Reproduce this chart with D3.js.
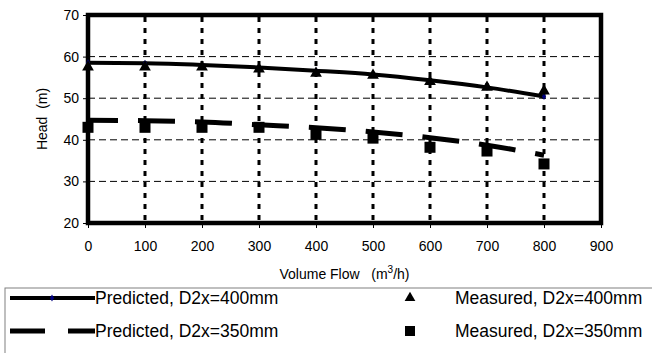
<!DOCTYPE html>
<html lang="en">
<head>
    <meta charset="UTF-8">
    <script src="https://d3js.org/d3.v7.min.js"></script>
    <title>Head vs volume flow</title>
    <style>
        body { margin: 0; background: #fff; }
        text { font-family: "Liberation Sans", Arial, sans-serif; fill: #000; white-space: pre; }
    </style>
</head>
<body>
<div id="Area"></div>
<script>
    // data
    const flow = [0, 100, 200, 300, 400, 500, 600, 700, 800];
    const predicted400 = [58.5, 58.4, 58.0, 57.4, 56.6, 55.7, 54.3, 52.6, 50.4];
    const measured400 = [57.5, 57.5, 57.5, 57.0, 56.0, 55.5, 54.0, 52.6, 51.7];
    const predicted350 = [44.7, 44.6, 44.3, 43.6, 42.9, 41.9, 40.5, 38.7, 36.3];
    const measured350 = [43.0, 43.0, 43.0, 43.0, 41.3, 40.4, 38.2, 37.3, 34.2];
    const xTicks = [0, 100, 200, 300, 400, 500, 600, 700, 800, 900];
    const yTicks = [20, 30, 40, 50, 60, 70];
    const legendLabels = ["Predicted, D2x=400mm", "Predicted, D2x=350mm",
                          "Measured, D2x=400mm", "Measured, D2x=350mm"];

    const W = 652, H = 353;
    const margin = {top: 15, right: 51, bottom: 130, left: 88};
    const width = W - margin.left - margin.right;
    const height = H - margin.top - margin.bottom;

    const svg = d3.select("#Area").append("svg")
        .attr("width", W).attr("height", H);
    const g = svg.append("g")
        .attr("transform", "translate(" + margin.left + "," + margin.top + ")");

    const x = d3.scaleLinear().domain([0, 900]).range([0, width]);
    const y = d3.scaleLinear().domain([20, 70]).range([height, 0]);

    // horizontal grid (thin dashed)
    g.selectAll(".hgrid").data(yTicks.filter(d => d > 20 && d < 70)).enter()
      .append("line")
        .attr("x1", 0).attr("x2", width)
        .attr("y1", d => y(d)).attr("y2", d => y(d))
        .attr("stroke", "#000").attr("stroke-width", 1)
        .attr("stroke-dasharray", "7,4");

    // vertical grid (thick dotted)
    g.selectAll(".vgrid").data(xTicks.filter(d => d > 0 && d < 900)).enter()
      .append("line")
        .attr("x1", d => x(d)).attr("x2", d => x(d))
        .attr("y1", 2).attr("y2", height)
        .attr("stroke", "#000").attr("stroke-width", 3)
        .attr("stroke-dasharray", "5,6");

    // axes
    const xAxis = g.append("g")
        .attr("transform", "translate(0," + height + ")")
        .call(d3.axisBottom(x).tickValues(xTicks).tickSize(5).tickPadding(13));
    const yAxis = g.append("g")
        .call(d3.axisLeft(y).tickValues(yTicks).tickSize(5).tickPadding(4));
    [xAxis, yAxis].forEach(a => {
        a.select(".domain").remove();
        a.selectAll("text").style("font-size", "14px")
          .style("font-family", "'Liberation Sans', Arial, sans-serif");
        a.selectAll("line").attr("stroke", "#000");
    });

    // frame
    g.append("rect")
        .attr("x", 0).attr("y", 0).attr("width", width).attr("height", height)
        .attr("fill", "none").attr("stroke", "#000").attr("stroke-width", 4.5);

    // axis titles
    g.append("text")
        .attr("transform", "translate(-46," + (height / 2) + ") rotate(-90)")
        .attr("text-anchor", "middle").attr("dy", "0.35em")
        .style("font-size", "14px")
        .text("Head  (m)");

    const xt = g.append("text")
        .attr("x", width / 2).attr("y", height + 56)
        .attr("text-anchor", "middle")
        .style("font-size", "14px");
    xt.append("tspan").text("Volume Flow   (m");
    xt.append("tspan").attr("dy", -6).style("font-size", "10px").text("3");
    xt.append("tspan").attr("dy", 6).text("/h)");

    // lines
    const line = d3.line()
        .x((d, i) => x(flow[i]))
        .y(d => y(d))
        .curve(d3.curveMonotoneX);

    g.append("path").datum(predicted350)
        .attr("d", line).attr("fill", "none")
        .attr("stroke", "#000").attr("stroke-width", 5)
        .attr("stroke-dasharray", "37,20").attr("stroke-dashoffset", 7);

    g.append("path").datum(predicted400)
        .attr("d", line).attr("fill", "none")
        .attr("stroke", "#000").attr("stroke-width", 4);

    g.selectAll(".pdot").data(predicted400).enter()
      .append("path")
        .attr("d", d3.symbol(d3.symbolDiamond, 14))
        .attr("transform", (d, i) => "translate(" + x(flow[i]) + "," + y(d) + ")")
        .attr("fill", "#000080");

    // measured markers
    g.selectAll(".tri").data(measured400).enter()
      .append("path")
        .attr("d", d3.symbol(d3.symbolTriangle, 60))
        .attr("transform", (d, i) => "translate(" + x(flow[i]) + "," + y(d) + ")")
        .attr("fill", "#000");

    g.selectAll(".sq").data(measured350).enter()
      .append("rect")
        .attr("x", (d, i) => x(flow[i]) - 5.5)
        .attr("y", d => y(d) - 5.5)
        .attr("width", 11).attr("height", 11)
        .attr("fill", "#000");

    // legend
    const lg = svg.append("g");
    lg.append("rect")
        .attr("x", 5).attr("y", 288).attr("width", 700).attr("height", 100)
        .attr("fill", "none").attr("stroke", "#808080").attr("stroke-width", 1);

    const rows = [298, 331];
    lg.append("line").attr("x1", 10).attr("x2", 95)
        .attr("y1", rows[0]).attr("y2", rows[0])
        .attr("stroke", "#000").attr("stroke-width", 4);
    lg.append("path")
        .attr("d", d3.symbol(d3.symbolDiamond, 14))
        .attr("transform", "translate(52," + rows[0] + ")")
        .attr("fill", "#000080");
    lg.append("line").attr("x1", 10).attr("x2", 95)
        .attr("y1", rows[1]).attr("y2", rows[1])
        .attr("stroke", "#000").attr("stroke-width", 5)
        .attr("stroke-dasharray", "35,23");
    lg.append("path")
        .attr("d", d3.symbol(d3.symbolTriangle, 50))
        .attr("transform", "translate(410," + rows[0] + ")")
        .attr("fill", "#000");
    lg.append("rect")
        .attr("x", 405).attr("y", rows[1] - 5).attr("width", 10).attr("height", 10)
        .attr("fill", "#000");

    lg.selectAll(".ltxt").data(legendLabels).enter()
      .append("text")
        .attr("x", (d, i) => i < 2 ? 95 : 455)
        .attr("y", (d, i) => rows[i % 2])
        .attr("dy", "0.35em")
        .style("font-size", "17.5px")
        .text(d => d);
</script>
</body>
</html>
